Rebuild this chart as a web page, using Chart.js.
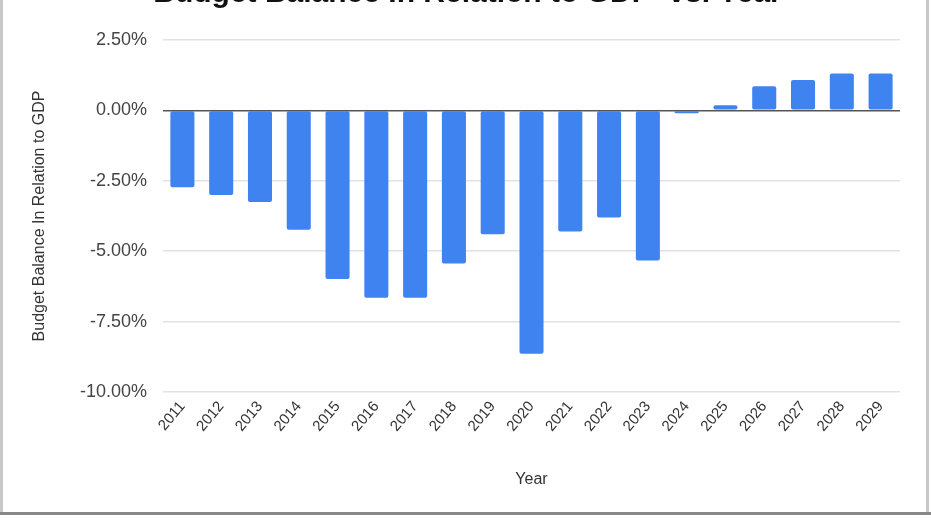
<!DOCTYPE html>
<html>
<head>
<meta charset="utf-8">
<script src="https://cdn.jsdelivr.net/npm/chart.js@4.4.1/dist/chart.umd.min.js"></script>
<style>
  html, body { margin: 0; padding: 0; background: #fff; }
  #wrap { position: relative; width: 931px; height: 523px; overflow: hidden; }
  canvas { position: absolute; left: 0; top: 0; }
  .frame-l { position: absolute; left: 0; top: 0; width: 3px; height: 514px; background: #c8c8c8; }
  .frame-r { position: absolute; left: 926px; top: 0; width: 3px; height: 514px; background: #c8c8c8; }
  .frame-b { position: absolute; left: 0; top: 512px; width: 931px; height: 3px; background: #888; }
</style>
</head>
<body>
<div id="wrap">
  <canvas id="c" width="931" height="523"></canvas>
  <div class="frame-l"></div>
  <div class="frame-r"></div>
  <div class="frame-b"></div>
</div>
<script>
const years = ['2011','2012','2013','2014','2015','2016','2017','2018','2019','2020',
               '2021','2022','2023','2024','2025','2026','2027','2028','2029'];
const balancePct = [-2.73, -3.0, -3.25, -4.24, -5.99, -6.65, -6.65, -5.44, -4.4, -8.64,
                    -4.3, -3.8, -5.33, -0.1, 0.18, 0.86, 1.08, 1.31, 1.31];
const yTicks = [2.5, 0, -2.5, -5, -7.5, -10];

const titleText = 'Budget Balance In Relation to GDP  vs. Year';
const yTitle = 'Budget Balance In Relation to GDP';
const xTitle = 'Year';

Chart.defaults.font.family = '"Liberation Sans", Arial, sans-serif';
Chart.defaults.color = '#444';

new Chart(document.getElementById('c'), {
  type: 'bar',
  data: {
    labels: years,
    datasets: [{
      data: balancePct,
      backgroundColor: '#3f83f0',
      borderRadius: 2,
      borderSkipped: false,
      barPercentage: 0.62,
      categoryPercentage: 1.0
    }]
  },
  options: {
    responsive: false,
    animation: false,
    layout: { padding: { top: -24, left: 4, right: 0, bottom: 28 } },
    plugins: {
      legend: { display: false },
      tooltip: { enabled: false },
      title: {
        display: true,
        text: titleText,
        color: '#111',
        font: { size: 30, weight: 'bold' },
        padding: { top: 0, bottom: 28 }
      }
    },
    scales: {
      x: {
        grid: { display: false, drawTicks: false },
        border: { display: false },
        ticks: {
          font: { size: 15 },
          color: '#333',
          maxRotation: 50,
          minRotation: 50,
          padding: 6,
          autoSkip: false
        },
        title: {
          display: true,
          text: xTitle,
          font: { size: 16 },
          color: '#333',
          padding: { top: 0, bottom: 6 }
        },
        afterFit: s => { s.height = 103; }
      },
      y: {
        min: -10,
        max: 2.5,
        afterBuildTicks: s => { s.ticks = yTicks.map(v => ({ value: v })); },
        grid: {
          drawTicks: false,
          color: ctx => (ctx.tick && ctx.tick.value === 0) ? '#555' : '#e2e2e2',
          lineWidth: 1.6
        },
        border: { display: false },
        ticks: {
          font: { size: 18 },
          color: '#444',
          padding: 16,
          callback: v => v.toFixed(2) + '%'
        },
        title: {
          display: true,
          text: yTitle,
          font: { size: 16 },
          color: '#333',
          padding: { top: 26, bottom: 0 }
        },
        afterFit: s => { s.width = 159; }
      },
      y2: {
        position: 'right',
        display: true,
        grid: { display: false, drawTicks: false },
        border: { display: false },
        ticks: { display: false },
        afterFit: s => { s.width = 31; }
      }
    }
  }
});
</script>
</body>
</html>
